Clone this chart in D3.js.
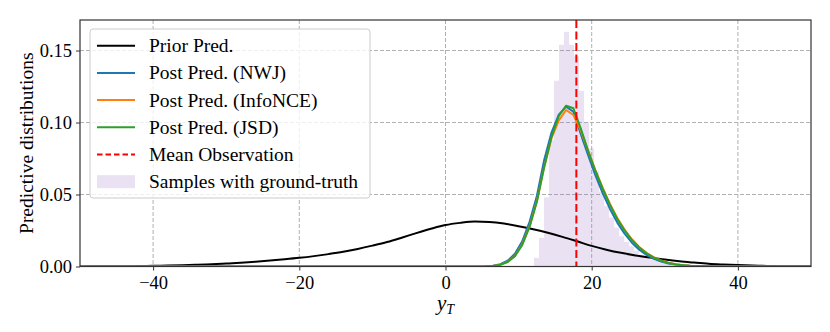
<!DOCTYPE html>
<html>
<head>
<meta charset="utf-8">
<script src="https://cdn.jsdelivr.net/npm/d3@7"></script>
<style>
  body { margin: 0; background: #fff; }
  text { font-family: "Liberation Serif", "DejaVu Serif", serif; fill: #000; }
</style>
</head>
<body>
<div id="chart"></div>
<script>
// prior predictive, evaluated every 2 units
let priorX = d3.range(-50, 51, 2)
let priorY = [0.0000, 0.0001, 0.0001, 0.0002, 0.0003, 0.0005, 0.0007, 0.0009, 0.0012, 0.0016,
    0.0020, 0.0026, 0.0033, 0.0041, 0.0050, 0.0060, 0.0072, 0.0086, 0.0102, 0.0122,
    0.0145, 0.0170, 0.0200, 0.0232, 0.0262, 0.0288, 0.0303, 0.0312, 0.0309, 0.0298,
    0.0280, 0.0259, 0.0234, 0.0206, 0.0175, 0.0143, 0.0117, 0.0095, 0.0077, 0.0062,
    0.0048, 0.0036, 0.0027, 0.0019, 0.0014, 0.0010, 0.0007, 0.0004, 0.0002, 0.0001, 0.0001]

// posterior predictives
let postX = [-50, 4.5, 5.5, 6.5, 7.5, 8.5, 9.5, 10.5, 11.5, 12.5, 13.5, 14.5, 15.5, 16.5, 17.5, 18.5,
    19.5, 20.5, 21.5, 22.5, 23.5, 24.5, 25.5, 26.5, 27.5, 28.5, 29.5, 30.5, 31.5, 32.5, 33.5,
    34.5, 35.5, 50]
let nwj = [0, 0, 0.0002, 0.0006, 0.0016, 0.0040, 0.0088, 0.0175, 0.0310, 0.0490, 0.0740, 0.0930,
    0.1055, 0.1110, 0.1075, 0.0920, 0.0775, 0.0635, 0.0510, 0.0400, 0.0305, 0.0228, 0.0165,
    0.0117, 0.0080, 0.0053, 0.0034, 0.0021, 0.0013, 0.0008, 0.0004, 0.0002, 0.0001, 0]
let infonce = [0, 0, 0.0001, 0.0004, 0.0013, 0.0033, 0.0075, 0.0155, 0.0280, 0.0455, 0.0690, 0.0890,
    0.1015, 0.1087, 0.1052, 0.0945, 0.0805, 0.0670, 0.0547, 0.0435, 0.0337, 0.0256, 0.0189,
    0.0136, 0.0095, 0.0064, 0.0042, 0.0026, 0.0016, 0.0009, 0.0005, 0.0003, 0.0001, 0]
let jsd = [0, 0, 0.0001, 0.0004, 0.0012, 0.0031, 0.0072, 0.0150, 0.0275, 0.0450, 0.0690, 0.0900,
    0.1045, 0.1117, 0.1099, 0.0960, 0.0805, 0.0665, 0.0540, 0.0428, 0.0330, 0.0250, 0.0184,
    0.0132, 0.0092, 0.0062, 0.0040, 0.0025, 0.0015, 0.0009, 0.0005, 0.0003, 0.0001, 0]

let meanObs = 17.9

// histogram of samples with ground-truth (density)
let histEdges = [12.10, 12.79, 13.47, 14.16, 14.84, 15.53, 16.21, 16.90, 17.58, 18.27, 18.95,
    19.64, 20.32, 21.01, 21.70, 22.38, 23.07, 23.75, 24.44, 25.12, 25.81, 26.50, 27.18,
    27.87, 28.55, 29.24, 29.92, 30.61, 31.30, 31.98, 32.67]
let histY = [0.006, 0.020, 0.048, 0.088, 0.129, 0.154, 0.163, 0.154, 0.146, 0.122, 0.100,
    0.082, 0.066, 0.052, 0.042, 0.034, 0.027, 0.021, 0.017, 0.014, 0.011, 0.008, 0.006,
    0.005, 0.004, 0.003, 0.002, 0.002, 0.001, 0.001]

let xTicks = [-40, -20, 0, 20, 40]
let yTicks = [0, 0.05, 0.10, 0.15]
let legendLabels = ['Prior Pred.', 'Post Pred. (NWJ)', 'Post Pred. (InfoNCE)', 'Post Pred. (JSD)',
    'Mean Observation', 'Samples with ground-truth']

let W = 830, H = 332
let pl = 80, pr = 811, pt = 20, pb = 266.5

let svg = d3.select('#chart')
    .append('svg')
    .attr('width', W)
    .attr('height', H)

let xScale = d3.scaleLinear().domain([-50, 50]).range([pl, pr])
let yScale = d3.scaleLinear().domain([0, 0.1712]).range([pb, pt])

svg.append('clipPath').attr('id', 'clip')
    .append('rect').attr('x', pl).attr('y', pt)
    .attr('width', pr - pl).attr('height', pb - pt)

// grid
let grid = svg.append('g')
grid.selectAll('.gx').data(xTicks).enter().append('line')
    .attr('x1', d => xScale(d)).attr('x2', d => xScale(d))
    .attr('y1', pt).attr('y2', pb)
    .attr('stroke', '#b0b0b0').attr('stroke-width', 1).attr('stroke-dasharray', '4,2')
grid.selectAll('.gy').data(yTicks.slice(1)).enter().append('line')
    .attr('x1', pl).attr('x2', pr)
    .attr('y1', d => yScale(d)).attr('y2', d => yScale(d))
    .attr('stroke', '#b0b0b0').attr('stroke-width', 1).attr('stroke-dasharray', '4,2')

let plot = svg.append('g').attr('clip-path', 'url(#clip)')

// histogram
plot.selectAll('.bar').data(histY).enter().append('rect')
    .attr('x', (d, i) => xScale(histEdges[i]))
    .attr('width', (d, i) => xScale(histEdges[i + 1]) - xScale(histEdges[i]))
    .attr('y', d => yScale(d))
    .attr('height', d => yScale(0) - yScale(d))
    .attr('fill', '#9467bd').attr('fill-opacity', 0.2)

let smooth = d3.line().x(d => xScale(d[0])).y(d => yScale(d[1])).curve(d3.curveMonotoneX)

plot.append('path').datum(d3.zip(priorX, priorY))
    .attr('d', smooth)
    .attr('fill', 'none').attr('stroke', '#000').attr('stroke-width', 2)

let lin = d3.line().x(d => xScale(d[0])).y(d => yScale(d[1]))
let posts = [[nwj, '#1f77b4'], [infonce, '#ff7f0e'], [jsd, '#2ca02c']]
posts.forEach(p => {
    plot.append('path').datum(d3.zip(postX, p[0]))
        .attr('d', lin)
        .attr('fill', 'none').attr('stroke', p[1]).attr('stroke-width', 2)
        .attr('stroke-linejoin', 'round')
})

plot.append('line')
    .attr('x1', xScale(meanObs)).attr('x2', xScale(meanObs))
    .attr('y1', pt).attr('y2', pb)
    .attr('stroke', '#ff0000').attr('stroke-width', 2).attr('stroke-dasharray', '8,3.5')

// axes
let xAxis = d3.axisBottom(xScale).tickValues(xTicks).tickSize(4).tickPadding(5)
    .tickFormat(d => d < 0 ? '\u2212' + Math.abs(d) : d)
let yAxis = d3.axisLeft(yScale).tickValues(yTicks).tickSize(4).tickPadding(4)
    .tickFormat(d3.format('.2f'))

svg.append('g').attr('transform', `translate(0,${pb})`).call(xAxis)
    .call(g => g.select('.domain').remove())
svg.append('g').attr('transform', `translate(${pl},0)`).call(yAxis)
    .call(g => g.select('.domain').remove())
svg.selectAll('.tick text').attr('font-size', 18.5)
    .attr('font-family', '"Liberation Serif", serif')
svg.selectAll('.tick line').attr('stroke', '#333').attr('stroke-width', 1)

svg.append('rect')
    .attr('x', pl).attr('y', pt)
    .attr('width', pr - pl).attr('height', pb - pt)
    .attr('fill', 'none').attr('stroke', '#333').attr('stroke-width', 1.2)

// labels
svg.append('text')
    .attr('x', (pl + pr) / 2).attr('y', 310)
    .attr('text-anchor', 'middle').attr('font-size', 21).attr('font-style', 'italic')
    .text('y')
    .append('tspan').attr('font-size', 14).attr('dy', 4).text('T')

svg.append('text')
    .attr('transform', `translate(33,${(pt + pb) / 2}) rotate(-90)`)
    .attr('text-anchor', 'middle').attr('font-size', 19.5)
    .text('Predictive distributions')

// legend
let lg = svg.append('g')
lg.append('rect')
    .attr('x', 90).attr('y', 29).attr('width', 280).attr('height', 169).attr('rx', 3)
    .attr('fill', '#fff').attr('fill-opacity', 0.8)
    .attr('stroke', '#cccccc').attr('stroke-width', 1)

let legendStyle = [
    {c: '#000', dash: null}, {c: '#1f77b4', dash: null}, {c: '#ff7f0e', dash: null},
    {c: '#2ca02c', dash: null}, {c: '#ff0000', dash: '5.5,3'}, {c: '#9467bd', patch: true}]

legendLabels.forEach((t, i) => {
    let cy = 45.7 + i * 27.2
    let s = legendStyle[i]
    if (s.patch) {
        lg.append('rect').attr('x', 97).attr('y', cy - 6.5).attr('width', 38).attr('height', 13)
            .attr('fill', s.c).attr('fill-opacity', 0.2)
    } else {
        lg.append('line').attr('x1', 97).attr('x2', 135).attr('y1', cy).attr('y2', cy)
            .attr('stroke', s.c).attr('stroke-width', 2)
            .attr('stroke-dasharray', s.dash)
    }
    lg.append('text').attr('x', 149).attr('y', cy + 6.5)
        .attr('font-size', 19.5).text(t)
})
</script>
</body>
</html>
